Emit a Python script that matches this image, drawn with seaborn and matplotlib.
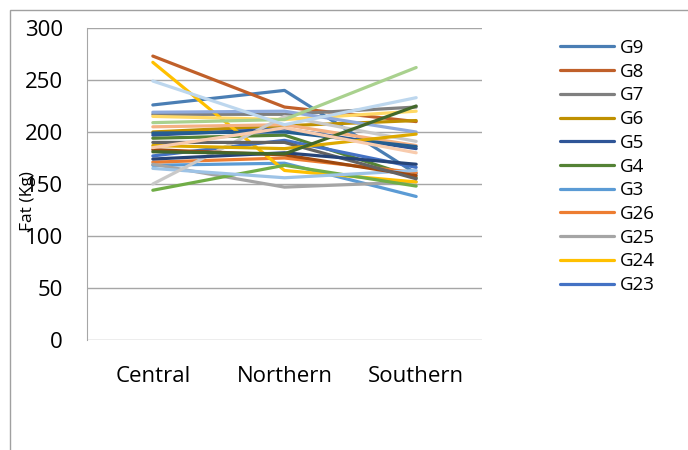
import matplotlib
matplotlib.use("Agg")
import matplotlib.pyplot as plt
import matplotlib.patches as patches
import seaborn as sns
import pandas as pd

categories = ["Central", "Northern", "Southern"]
series = ["G9", "G8", "G7", "G6", "G5", "G4", "G3", "G26", "G25", "G24", "G23",
          "G22", "G21", "G20", "G2", "G19", "G18", "G17", "G16", "G15", "G14",
          "G13", "G12", "G11", "G10", "G1"]
central = [226, 273, 217, 200, 197, 194, 168, 171, 169, 267, 177,
           144, 165, 205, 150, 215, 219, 209, 199, 183, 190,
           187, 174, 181, 249, 185]
northern = [240, 224, 217, 206, 203, 197, 170, 175, 147, 163, 192,
            168, 156, 207, 215, 212, 220, 212, 200, 178, 190,
            184, 180, 179, 207, 204]
southern = [160, 210, 224, 211, 184, 156, 138, 161, 152, 152, 166,
            148, 163, 187, 191, 220, 200, 262, 186, 158, 155,
            198, 169, 225, 233, 180]
colors = ["#4A7EB4", "#C0602A", "#7F7F7F", "#BF9000", "#2F5597", "#548235",
          "#5B9BD5", "#ED7D31", "#A5A5A5", "#FFC000", "#4472C4",
          "#70AD47", "#9DC3E6", "#F4B183", "#C9C9C9", "#FFD966", "#8FAADC",
          "#A9D18E", "#255E91", "#9E480E", "#636363", "#DDA900", "#264478",
          "#43682B", "#BDD7EE", "#F8CBAD"]
legend_shown = ["G9", "G8", "G7", "G6", "G5", "G4", "G3", "G26", "G25", "G24", "G23"]

rows = []
for i, s in enumerate(series):
    for cat, v in zip(categories, [central[i], northern[i], southern[i]]):
        rows.append({"Region": cat, "Fat": v, "Series": s})
df = pd.DataFrame(rows)
palette = dict(zip(series, colors))

sns.set_style("white")
plt.rcParams["font.family"] = ["Open Sans", "DejaVu Sans"]
plt.rcParams["text.color"] = "black"
plt.rcParams["xtick.color"] = "black"
plt.rcParams["ytick.color"] = "black"

W, H = 688, 450
fig = plt.figure(figsize=(W / 100, H / 100), dpi=100)
ax = fig.add_axes([87 / W, 1 - 340 / H, (482 - 87) / W, (340 - 28) / H])

sns.lineplot(data=df, x="Region", y="Fat", hue="Series", hue_order=series,
             palette=palette, sort=False, linewidth=2.3, ax=ax, legend=False)

ax.set_xlim(-0.5, 2.5)
ax.set_ylim(0, 300)
ax.set_yticks(range(0, 301, 50))
ax.yaxis.grid(True, color="#A6A6A6", linewidth=1)
ax.set_axisbelow(True)
for sp in ["top", "right", "bottom"]:
    ax.spines[sp].set_visible(False)
ax.spines["left"].set_color("#A6A6A6")
ax.tick_params(axis="y", length=6.5, color="#A6A6A6", labelcolor="black", pad=11, labelsize=16)
ax.tick_params(axis="x", length=0, pad=18.5, labelcolor="black", labelsize=16)
ax.set_xlabel("")
ax.set_ylabel("")
fig.text(28 / W, 1 - 201 / H, "Fat (Kg)", rotation=90, ha="center", va="center", fontsize=12.5)

handles = [ax.lines[series.index(s)] for s in legend_shown]
fig.legend(handles, legend_shown, loc="upper left", bbox_to_anchor=(552.5 / W, 1 - 31.5 / H),
           frameon=False, fontsize=13.5, handlelength=2.9, handletextpad=0.27,
           labelspacing=0.305, borderaxespad=0)

fig.patches.append(patches.Rectangle((10 / W, -0.1), 1.2, 1 - 10 / H + 0.1,
                                     transform=fig.transFigure, fill=False,
                                     edgecolor="#A0A0A0", linewidth=1))
fig.savefig("out.png", dpi=100)
